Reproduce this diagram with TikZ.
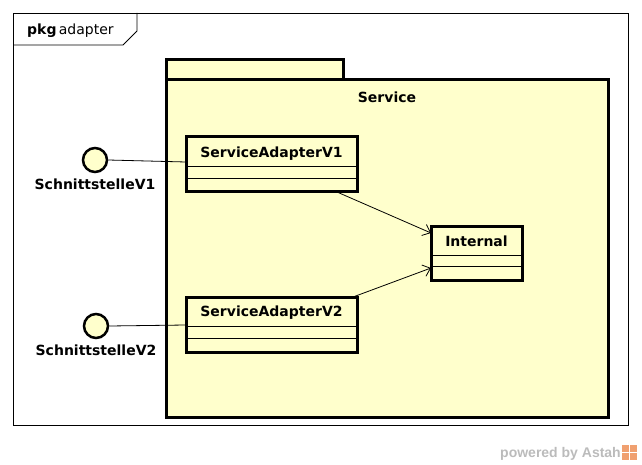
\documentclass[tikz,border=0pt]{standalone}
\usepackage{fontspec}
\setmainfont{DejaVu Sans}
\newfontfamily\astahfont{Liberation Sans}
\usetikzlibrary{arrows.meta}
\definecolor{umlfill}{HTML}{FFFFCC}
\definecolor{astahgray}{HTML}{BBBBBB}
\definecolor{astahorange}{HTML}{F0A070}
\begin{document}
\begin{tikzpicture}[x=1pt,y=-1pt,
  thickline/.style={line width=3pt, draw=black},
  classbox/.style={thickline, fill=umlfill},
  lbl/.style={font=\bfseries\fontsize{14}{16}\selectfont, inner sep=0pt},
  thin/.style={line width=0.8pt},
  dep/.style={line width=0.8pt, -{Straight Barb[length=7pt,width=12pt,line width=0.8pt]}}
]
\useasboundingbox (0,0) rectangle (642,465);
% frame
\draw[line width=0.8pt] (13,13) rectangle (628,425);
\draw[line width=0.8pt] (13,45) -- (123,45) -- (137,31) -- (137,13);
\node[anchor=base west, inner sep=0pt, font=\fontsize{14}{16}\selectfont] (pkgl) at (27,35) {\textbf{pkg}\,adapter};
% Service package
\draw[classbox] (166,60) rectangle (343,80);
\draw[classbox] (166,80) rectangle (608,417);
\node[lbl] (svc) at (387,97) {Service};
% ServiceAdapterV1
\draw[classbox] (186,137) rectangle (357,192);
\draw[thin] (186,166) -- (357,166);
\draw[thin] (186,178) -- (357,178);
\node[lbl] (sa1) at (271.5,154) {ServiceAdapterV1};
\coordinate (sa1w) at (186,162);
\coordinate (sa1s) at (337,192);
% ServiceAdapterV2
\draw[classbox] (186,297) rectangle (357,352);
\draw[thin] (186,326) -- (357,326);
\draw[thin] (186,338) -- (357,338);
\node[lbl] (sa2) at (271.5,313) {ServiceAdapterV2};
\coordinate (sa2w) at (186,325);
\coordinate (sa2n) at (353,297);
% Internal
\draw[classbox] (431,226) rectangle (522,280);
\draw[thin] (431,255) -- (522,255);
\draw[thin] (431,266) -- (522,266);
\node[lbl] (int) at (476.5,241) {Internal};
\coordinate (int1) at (431,233);
\coordinate (int2) at (431,268);
% interfaces
\node[circle, draw, line width=2.5pt, fill=umlfill, minimum size=24pt, inner sep=0pt] (i1) at (95,160) {};
\node[lbl] (i1l) at (95,184) {SchnittstelleV1};
\node[circle, draw, line width=2.5pt, fill=umlfill, minimum size=24pt, inner sep=0pt] (i2) at (96,326) {};
\node[lbl] (i2l) at (96,350) {SchnittstelleV2};
% connectors
\draw[thin] (i1.east) -- (sa1w);
\draw[thin] (i2.east) -- (sa2w);
\draw[dep] (sa1s) -- (int1);
\draw[dep] (sa2n) -- (int2);
% powered by
\node[anchor=base east, inner sep=0pt, text=astahgray, font=\astahfont\bfseries\fontsize{14}{16}\selectfont] (pw) at (621,457) {powered by Astah};
\fill[astahorange] (622,445) rectangle (637,460);
\draw[white, line width=1pt] (622,452) -- (637,452) (629.5,445) -- (629.5,460);
\end{tikzpicture}
\end{document}
